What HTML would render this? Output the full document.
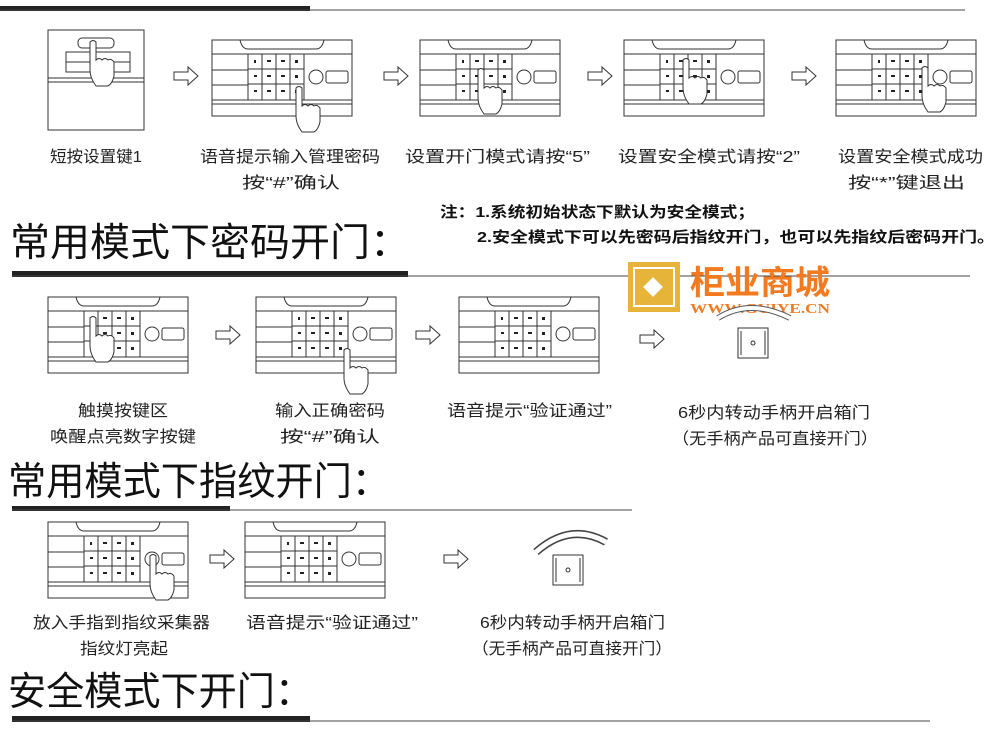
<!DOCTYPE html>
<html><head><meta charset="utf-8"><style>
body{margin:0;background:#fff;}
svg{display:block;font-family:"Liberation Sans","Noto Sans CJK SC",sans-serif;}
.c{font-size:16px;fill:#222}
.h{font-size:39px;fill:#111}
.n{font-size:15px;font-weight:bold;fill:#111}
</style></head><body>
<svg width="1000" height="730" viewBox="0 0 1000 730" xmlns="http://www.w3.org/2000/svg">
<defs>
<g id="p" fill="none" stroke="#333" stroke-width="1">
<rect x="0" y="0" width="140" height="76"/>
<path d="M28 0 Q30 9 36 9 L104 9 Q110 9 112 0"/>
<line x1="0" y1="14" x2="140" y2="14"/>
<line x1="0" y1="60" x2="140" y2="60"/><line x1="0" y1="64" x2="140" y2="64"/>
<line x1="0" y1="30" x2="36" y2="30"/><line x1="0" y1="45" x2="36" y2="45"/>
<rect x="36" y="14" width="56" height="46"/>
<line x1="50" y1="14" x2="50" y2="60"/><line x1="64" y1="14" x2="64" y2="60"/><line x1="78" y1="14" x2="78" y2="60"/>
<line x1="36" y1="29" x2="92" y2="29"/><line x1="36" y1="44" x2="92" y2="44"/>
<circle cx="104" cy="37" r="7"/><rect x="114" y="31" width="22" height="12" rx="2"/>
<g fill="#222" stroke="none"><rect x="55" y="20" width="4" height="2"/><rect x="69" y="20" width="4" height="2"/><rect x="55" y="35" width="4" height="2"/><rect x="69" y="35" width="4" height="2"/><rect x="55" y="50" width="4" height="2"/><rect x="69" y="50" width="4" height="2"/><rect x="83" y="20" width="3" height="3"/><rect x="83" y="35" width="3" height="3"/><rect x="83" y="50" width="3" height="3"/><rect x="42" y="20" width="2" height="3"/><rect x="42" y="35" width="3" height="2"/><rect x="42" y="50" width="3" height="2"/></g>
</g>
<g id="a" fill="#fff" stroke="#333" stroke-width="1"><path d="M0 5 H14 V0 L24 9 L14 18 V13 H0 Z"/></g>
<g id="hand" fill="#fff" stroke="#333" stroke-width="1"><path d="M0 0 Q3 -3 6 0 V18 Q9 15 12 18 Q15 15 18 18 Q21 16 24 20 V34 Q22 42 18 44 H6 Q0 36 0 28 Z"/></g>
<g id="hd" fill="none" stroke="#333"><rect x="0" y="0" width="30" height="30"/><line x1="3" y1="3" x2="3" y2="27"/><line x1="27" y1="3" x2="27" y2="27"/><circle cx="15" cy="15" r="2"/></g>
</defs>
<rect x="0" y="6" width="310" height="5" fill="#222"/><line x1="0" y1="10" x2="965" y2="10" stroke="#444"/>
<!-- row1 -->
<g fill="none" stroke="#333"><rect x="48" y="30" width="96" height="100"/><line x1="48" y1="82" x2="144" y2="82"/><line x1="48" y1="78" x2="144" y2="78"/>
<rect x="78" y="38" width="36" height="10" rx="4"/><rect x="66" y="52" width="64" height="20"/><line x1="66" y1="62" x2="130" y2="62"/></g>
<use href="#hand" x="90" y="42"/>
<use href="#a" x="174" y="67"/>
<use href="#p" x="212" y="40"/><use href="#hand" x="296" y="88"/>
<use href="#a" x="384" y="67"/>
<use href="#p" x="420" y="40"/><use href="#hand" x="478" y="70"/>
<use href="#a" x="588" y="67"/>
<use href="#p" x="624" y="40"/><use href="#hand" x="683" y="60"/>
<use href="#a" x="792" y="67"/>
<use href="#p" x="836" y="40"/><use href="#hand" x="922" y="68"/>
<text class="c" x="50" y="162" textLength="92" lengthAdjust="spacingAndGlyphs">短按设置键1</text>
<text class="c" x="200" y="162" textLength="180" lengthAdjust="spacingAndGlyphs">语音提示输入管理密码</text><text class="c" x="242" y="188" textLength="98" lengthAdjust="spacingAndGlyphs">按“#”确认</text>
<text class="c" x="405" y="162" textLength="185" lengthAdjust="spacingAndGlyphs">设置开门模式请按“5”</text>
<text class="c" x="618" y="162" textLength="182" lengthAdjust="spacingAndGlyphs">设置安全模式请按“2”</text>
<text class="c" x="838" y="162" textLength="145" lengthAdjust="spacingAndGlyphs">设置安全模式成功</text><text class="c" x="848" y="188" textLength="117" lengthAdjust="spacingAndGlyphs">按“*”键退出</text>
<text class="n" x="440" y="217" textLength="315" lengthAdjust="spacingAndGlyphs">注：1.系统初始状态下默认为安全模式；</text>
<text class="n" x="477" y="242" textLength="518" lengthAdjust="spacingAndGlyphs">2.安全模式下可以先密码后指纹开门，也可以先指纹后密码开门。</text>
<text class="h" x="10" y="256" textLength="400" lengthAdjust="spacingAndGlyphs">常用模式下密码开门：</text>
<rect x="12" y="271" width="396" height="6" fill="#222"/><line x1="12" y1="276" x2="970" y2="276" stroke="#444"/>
<!-- logo -->
<rect x="628" y="262" width="52" height="50" fill="#e7b43a"/><rect x="634" y="268" width="40" height="38" fill="none" stroke="#fff" stroke-width="2"/>
<rect x="646" y="280" width="14" height="14" fill="#fff" transform="rotate(45 653 287)"/>
<text x="690" y="294" font-size="33" font-weight="bold" fill="#f47a20" textLength="140" lengthAdjust="spacingAndGlyphs">柜业商城</text>
<text x="690" y="313" font-size="14" font-weight="bold" fill="#f47a20" font-family="Liberation Serif,serif" textLength="140" lengthAdjust="spacingAndGlyphs">WWW.GUIYE.CN</text>
<!-- row2 -->
<use href="#p" x="48" y="297"/><use href="#hand" x="90" y="318"/>
<use href="#a" x="216" y="326"/>
<use href="#p" x="256" y="297"/><use href="#hand" x="344" y="350"/>
<use href="#a" x="416" y="326"/>
<use href="#p" x="459" y="297"/>
<use href="#a" x="640" y="330"/>
<path d="M718 318 Q750 298 790 318" fill="none" stroke="#555" stroke-width="6"/><path d="M718 318 Q750 298 790 318" fill="none" stroke="#fff" stroke-width="4"/>
<use href="#hd" x="738" y="328"/>
<text class="c" x="78" y="416" textLength="90" lengthAdjust="spacingAndGlyphs">触摸按键区</text><text class="c" x="50" y="442" textLength="146" lengthAdjust="spacingAndGlyphs">唤醒点亮数字按键</text>
<text class="c" x="275" y="416" textLength="110" lengthAdjust="spacingAndGlyphs">输入正确密码</text><text class="c" x="280" y="442" textLength="100" lengthAdjust="spacingAndGlyphs">按“#”确认</text>
<text class="c" x="447" y="416" textLength="165" lengthAdjust="spacingAndGlyphs">语音提示“验证通过”</text>
<text class="c" x="678" y="418" textLength="192" lengthAdjust="spacingAndGlyphs">6秒内转动手柄开启箱门</text><text class="c" x="672" y="444" textLength="206" lengthAdjust="spacingAndGlyphs">（无手柄产品可直接开门）</text>
<text class="h" x="8" y="495" textLength="382" lengthAdjust="spacingAndGlyphs">常用模式下指纹开门：</text>
<rect x="12" y="506" width="218" height="5" fill="#222"/><line x1="12" y1="510" x2="632" y2="510" stroke="#444"/>
<!-- row3 -->
<use href="#p" x="48" y="522"/><use href="#hand" x="150" y="556"/>
<use href="#a" x="210" y="550"/>
<use href="#p" x="245" y="522"/>
<use href="#a" x="444" y="550"/>
<path d="M536 552 Q570 522 606 542" fill="none" stroke="#444" stroke-width="8"/><path d="M536 552 Q570 522 606 542" fill="none" stroke="#fff" stroke-width="5"/>
<use href="#hd" x="553" y="555"/>
<text class="c" x="33" y="628" textLength="177" lengthAdjust="spacingAndGlyphs">放入手指到指纹采集器</text><text class="c" x="80" y="654" textLength="88" lengthAdjust="spacingAndGlyphs">指纹灯亮起</text>
<text class="c" x="246" y="628" textLength="172" lengthAdjust="spacingAndGlyphs">语音提示“验证通过”</text>
<text class="c" x="480" y="628" textLength="185" lengthAdjust="spacingAndGlyphs">6秒内转动手柄开启箱门</text><text class="c" x="472" y="654" textLength="200" lengthAdjust="spacingAndGlyphs">（无手柄产品可直接开门）</text>
<text class="h" x="8" y="705" textLength="305" lengthAdjust="spacingAndGlyphs">安全模式下开门：</text>
<rect x="12" y="716" width="298" height="6" fill="#222"/><line x1="12" y1="721" x2="930" y2="721" stroke="#444"/>
</svg>
</body></html>
